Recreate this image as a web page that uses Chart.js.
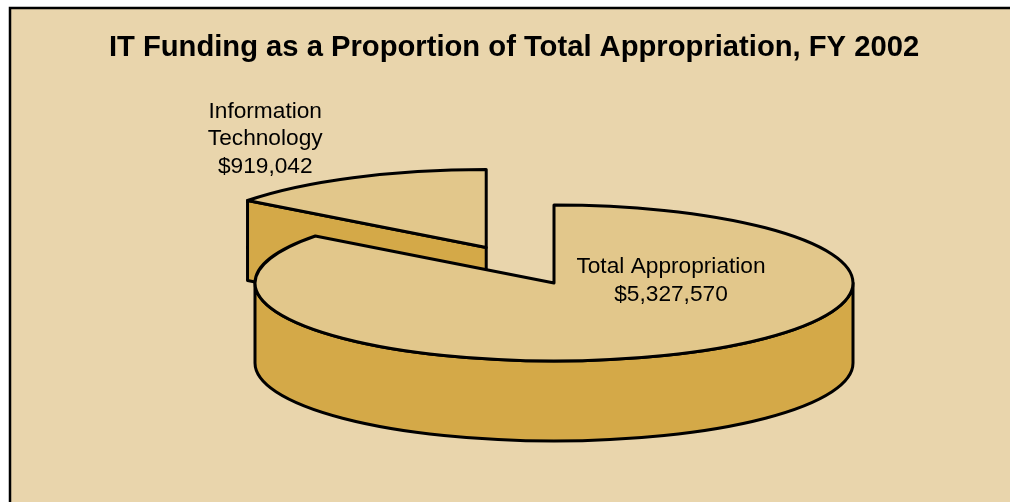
<!DOCTYPE html>
<html lang="en">
<head>
<meta charset="UTF-8">
<title>IT Funding as a Proportion of Total Appropriation, FY 2002</title>
<script src="https://cdn.jsdelivr.net/npm/chart.js"></script>
<style>
    body { margin: 0; background: #fff; }
    canvas { display: block; }
</style>
</head>
<body>
<canvas id="chart" width="1010" height="502"></canvas>

<script>
    // FY 2002 funding split
    const categories = [['Total Appropriation'], ['Information', 'Technology']];
    const amounts = [5327570, 919042];
    const chartTitle = 'IT Funding as a Proportion of Total Appropriation, FY 2002';

    // look of the 3D disc
    const topColor = '#E2C78B';
    const sideColor = '#D4A948';
    const pageColor = '#E9D5AC';
    const tilt = 0.261;                 // vertical squash of the disc
    const depth = 80;                   // thickness of the disc in px
    const explode = [0, 152];           // pull-out distance per slice
    const labelShift = [[117, -10], [-221, -129.5]];  // label anchor from slice centre
    const lineGap = 27.5;

    const money = v => '$' + v.toLocaleString('en-US');

    const pie3d = {
        id: 'pie3d',
        beforeDraw(chart) {
            const c = chart.ctx;
            c.save();
            c.fillStyle = '#fff';
            c.fillRect(0, 0, chart.width, chart.height);
            c.fillStyle = pageColor;
            c.fillRect(10, 8, chart.width, chart.height);
            c.strokeStyle = '#000';
            c.lineWidth = 2.5;
            c.beginPath();
            c.moveTo(10, chart.height + 5);
            c.lineTo(10, 8);
            c.lineTo(chart.width + 5, 8);
            c.stroke();

            c.fillStyle = '#000';
            c.font = 'bold 29.2px "Liberation Sans", Arial, sans-serif';
            c.textAlign = 'center';
            c.textBaseline = 'alphabetic';
            c.fillText(chartTitle, chart.width / 2 + 9, 56);
            c.restore();
        },
        beforeDatasetsDraw(chart) {
            const c = chart.ctx;
            const arcs = chart.getDatasetMeta(0).data;
            const y0 = arcs[0].y;
            const parts = arcs.map((el, i) => {
                const half = (el.startAngle + el.endAngle) / 2;
                const ex = Math.cos(half) * explode[i];
                const ey = Math.sin(half) * explode[i];
                return {
                    el, i, ex, ey,
                    cx: el.x + ex,
                    cy: y0 + (el.y + ey - y0) * tilt,
                    r: el.outerRadius,
                    ry: el.outerRadius * tilt
                };
            });
            // back slices first
            parts.sort((a, b) => a.cy - b.cy);

            c.save();
            c.lineWidth = 3;
            c.lineJoin = 'round';
            c.strokeStyle = '#000';
            for (const p of parts) {
                const { el, cx, cy, r, ry } = p;
                const s = el.startAngle, e = el.endAngle;
                c.fillStyle = sideColor;

                // cut faces that turn toward the viewer
                [[s, Math.cos(s) < -1e-6], [e, Math.cos(e) > 1e-6]].forEach(([a, show]) => {
                    if (!show) return;
                    const px = cx + r * Math.cos(a), py = cy + ry * Math.sin(a);
                    c.beginPath();
                    c.moveTo(cx, cy);
                    c.lineTo(px, py);
                    c.lineTo(px, py + depth);
                    c.lineTo(cx, cy + depth);
                    c.closePath();
                    c.fill();
                    c.stroke();
                });

                // outer wall, front half only
                for (const lo of [-2 * Math.PI, 0, 2 * Math.PI]) {
                    const a = Math.max(s, lo), b = Math.min(e, lo + Math.PI);
                    if (b <= a) continue;
                    c.beginPath();
                    c.ellipse(cx, cy, r, ry, 0, a, b);
                    c.ellipse(cx, cy + depth, r, ry, 0, b, a, true);
                    c.closePath();
                    c.fill();
                    c.stroke();
                }

                // top face: the arc element draws itself into a squashed context
                c.save();
                c.translate(0, y0);
                c.scale(1, tilt);
                c.translate(p.ex, p.ey - y0);
                el.draw(c);
                c.restore();

                c.beginPath();
                c.moveTo(cx, cy);
                c.ellipse(cx, cy, r, ry, 0, s, e);
                c.closePath();
                c.stroke();
            }

            c.fillStyle = '#000';
            c.font = '22.7px "Liberation Sans", Arial, sans-serif';
            c.textAlign = 'center';
            c.textBaseline = 'alphabetic';
            for (const p of parts) {
                const lines = [...categories[p.i], money(amounts[p.i])];
                const [dx, dy] = labelShift[p.i];
                lines.forEach((t, j) => c.fillText(t, p.cx + dx, p.cy + dy + j * lineGap));
            }
            c.restore();
            return false;
        }
    };

    new Chart(document.getElementById('chart'), {
        type: 'pie',
        data: {
            labels: categories,
            datasets: [{
                data: amounts,
                backgroundColor: topColor,
                borderWidth: 0,
                radius: 299
            }]
        },
        options: {
            responsive: false,
            animation: false,
            events: [],
            radius: 299,
            layout: { padding: { left: 98, right: 0, top: 64, bottom: 0 } },
            plugins: {
                legend: { display: false },
                title: { display: false },
                tooltip: { enabled: false }
            }
        },
        plugins: [pie3d]
    });
</script>
</body>
</html>
